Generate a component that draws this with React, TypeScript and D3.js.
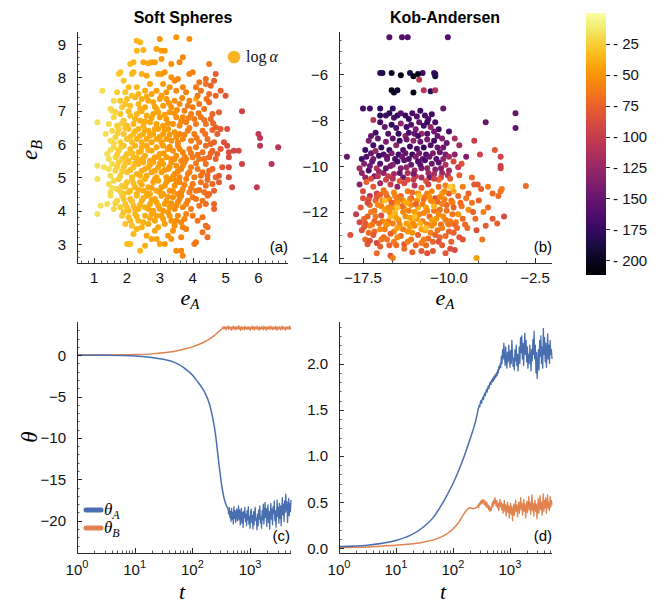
import React from "react";
import * as d3 from "d3";

// ---------- data: Soft Spheres [eA, eB, -log α] ----------
const softSpheres: [number, number, number][] = [
[2.3,9.1,35],[2.4,9.05,35],[3.0,9.15,48],[3.5,9.2,50],[3.9,9.15,52],
[2.3,8.8,35],[2.5,8.82,38],[2.9,8.85,44],[3.05,8.8,46],[3.15,8.8,48],[3.7,8.6,55],
[2.1,8.4,32],[2.2,8.45,35],[2.5,8.45,40],[2.65,8.42,43],[2.75,8.45,42],[2.85,8.45,44],[3.05,8.55,46],[3.6,8.45,56],[4.5,8.4,62],[3.35,8.4,50],
[1.75,8.1,25],[1.8,8.15,29],[2.15,8.1,32],[2.2,8.15,35],[2.45,8.1,38],[2.6,8.05,40],[2.95,8.1,44],[3.05,8.1,46],[3.15,8.15,48],[3.35,8.0,50],[3.45,7.9,54],[3.55,7.95,56],[3.9,8.1,58],[4.0,8.15,58],[4.2,7.85,64],[4.4,7.8,66],[4.55,7.75,72],[4.65,7.9,74],[4.7,8.1,78],[4.4,7.95,68],
[1.25,7.6,18],[1.7,7.55,25],[1.9,7.9,29],[1.95,7.55,29],[2.05,7.7,32],[2.3,7.7,35],[2.35,7.5,35],[2.55,7.6,40],[2.7,7.8,43],[2.75,7.5,43],[2.9,7.6,44],[3.1,7.8,46],[3.2,7.55,48],[3.3,7.7,50],[3.5,7.6,54],[3.7,7.7,56],[3.8,7.55,58],[4.1,7.7,62],[4.1,7.35,38],[4.25,7.6,66],[4.5,7.5,68],[4.85,7.6,76],[4.7,7.45,74],[5.0,7.45,82],[1.6,7.3,20],[1.5,7.05,20],
[1.55,7.0,20],[1.8,7.3,29],[1.85,7.1,25],[2.0,7.35,32],[2.1,7.15,32],[2.25,7.4,35],[2.35,7.2,35],[2.45,7.35,38],[2.55,7.1,40],[2.65,7.3,40],[2.8,7.25,43],[2.9,7.05,42],[3.0,7.35,44],[3.1,7.15,46],[3.2,7.35,48],[3.35,7.1,50],[3.45,7.3,52],[3.6,7.2,54],[3.75,7.0,58],[3.9,7.3,60],[4.0,7.1,60],[4.2,7.2,64],[4.35,7.05,66],[4.5,7.25,70],[4.6,6.9,72],[4.8,6.95,76],[5.5,6.98,96],[4.05,6.75,62],
[1.1,6.65,16],[1.45,6.6,19],[1.6,6.8,21],[1.7,6.55,25],[1.8,6.9,29],[1.9,6.7,29],[2.0,6.55,32],[2.1,6.85,32],[2.2,6.6,35],[2.3,6.9,35],[2.4,6.7,38],[2.5,6.55,38],[2.6,6.85,40],[2.7,6.65,40],[2.8,6.9,43],[2.9,6.6,42],[3.0,6.8,44],[3.1,6.55,45],[3.2,6.75,47],[3.3,6.95,49],[3.4,6.6,51],[3.5,6.8,53],[3.6,6.55,55],[3.7,6.8,56],[3.8,6.65,58],[3.95,6.9,60],[4.1,6.6,62],[4.25,6.8,64],[4.4,6.6,66],[4.55,6.75,70],[4.7,6.5,74],[4.85,6.45,78],[5.05,6.45,86],
[1.35,6.3,18],[1.5,6.1,19],[1.55,6.4,20],[1.65,6.2,22],[1.75,6.45,25],[1.8,6.05,25],[1.9,6.3,29],[2.0,6.15,29],[2.05,6.45,32],[2.15,6.05,32],[2.2,6.3,32],[2.3,6.15,35],[2.35,6.45,35],[2.45,6.05,38],[2.5,6.3,38],[2.6,6.15,40],[2.65,6.4,40],[2.75,6.05,43],[2.8,6.3,43],[2.9,6.15,42],[2.95,6.45,43],[3.05,6.05,45],[3.1,6.3,46],[3.2,6.15,47],[3.25,6.45,48],[3.35,6.1,50],[3.45,6.35,52],[3.55,6.05,54],[3.6,6.3,55],[3.7,6.15,57],[3.85,6.4,58],[3.95,6.1,60],[4.05,6.3,62],[4.2,6.05,64],[4.3,6.4,66],[4.45,6.15,68],[4.55,6.0,72],[4.65,6.05,74],[4.75,6.3,76],[4.95,6.05,84],[5.05,5.95,88],[5.4,5.8,92],[6.0,6.3,104],[6.05,6.18,104],[6.05,5.95,106],[6.6,5.9,108],
[1.4,5.7,18],[1.45,5.55,18],[1.6,5.9,20],[1.65,5.6,22],[1.75,5.8,25],[1.85,5.55,25],[1.9,5.95,29],[2.0,5.7,29],[2.05,5.5,32],[2.1,5.85,32],[2.2,5.6,32],[2.25,5.95,35],[2.35,5.75,35],[2.4,5.5,38],[2.45,5.9,38],[2.55,5.65,38],[2.6,5.95,40],[2.7,5.5,40],[2.75,5.8,43],[2.85,5.6,43],[2.9,5.9,42],[3.0,5.7,44],[3.05,5.5,45],[3.1,5.95,46],[3.2,5.6,47],[3.25,5.85,48],[3.35,5.55,50],[3.4,5.8,51],[3.5,5.65,53],[3.55,5.95,54],[3.65,5.5,56],[3.7,5.75,57],[3.8,5.55,58],[3.9,5.85,60],[4.0,5.6,62],[4.1,5.9,63],[4.2,5.55,65],[4.3,5.75,66],[4.4,5.95,68],[4.5,5.6,70],[4.6,5.8,72],[4.7,5.55,74],[4.85,5.85,78],[5.1,5.75,90],[5.1,5.6,90],[5.25,5.8,92],
[1.1,5.35,16],[1.3,5.3,17],[1.5,5.05,19],[1.55,5.4,19],[1.65,5.2,22],[1.75,5.45,25],[1.8,5.05,25],[1.9,5.3,29],[2.0,5.15,29],[2.05,5.45,32],[2.15,5.0,32],[2.2,5.3,32],[2.3,5.1,35],[2.35,5.4,35],[2.45,5.2,38],[2.5,5.45,38],[2.6,5.05,40],[2.65,5.3,40],[2.75,5.15,43],[2.8,5.45,43],[2.9,5.0,42],[2.95,5.3,43],[3.05,5.15,45],[3.1,5.4,46],[3.2,5.0,47],[3.25,5.25,48],[3.35,5.45,50],[3.45,5.1,52],[3.5,5.35,53],[3.6,5.0,55],[3.65,5.25,56],[3.75,5.45,57],[3.85,5.1,58],[3.95,5.3,60],[4.05,5.0,62],[4.15,5.25,63],[4.3,5.15,66],[4.4,5.4,68],[4.45,5.05,69],[4.6,5.25,72],[4.7,5.0,74],[4.9,5.3,80],[5.1,5.3,88],[5.1,5.0,88],[5.5,5.4,96],[6.4,5.4,108],
[1.1,4.95,16],[1.45,4.8,18],[1.5,4.55,19],[1.6,4.9,20],[1.7,4.65,22],[1.75,4.95,25],[1.85,4.75,25],[1.9,4.5,29],[2.0,4.85,29],[2.1,4.6,32],[2.15,4.95,32],[2.25,4.7,35],[2.3,4.5,35],[2.4,4.85,35],[2.5,4.6,38],[2.55,4.95,38],[2.65,4.7,40],[2.7,4.5,40],[2.8,4.85,43],[2.9,4.6,42],[2.95,4.9,43],[3.05,4.7,45],[3.1,4.5,46],[3.2,4.85,47],[3.3,4.6,49],[3.35,4.95,50],[3.45,4.75,52],[3.55,4.5,54],[3.6,4.85,55],[3.7,4.65,56],[3.8,4.95,58],[3.9,4.55,60],[4.0,4.8,62],[4.1,4.6,63],[4.25,4.85,65],[4.35,4.55,67],[4.4,4.75,68],[4.5,4.5,70],[4.6,4.8,72],[4.65,4.6,74],[5.2,4.7,92],[5.95,4.7,104],[4.8,4.85,78],
[1.2,4.15,17],[1.4,4.2,18],[1.5,4.45,19],[1.6,4.05,20],[1.7,4.3,22],[1.8,4.1,25],[1.85,4.45,25],[1.95,4.2,29],[2.05,4.0,32],[2.1,4.35,32],[2.2,4.15,32],[2.3,4.45,35],[2.35,4.05,35],[2.45,4.3,38],[2.55,4.1,38],[2.6,4.45,40],[2.7,4.2,40],[2.8,4.0,43],[2.85,4.35,43],[2.95,4.15,43],[3.05,4.45,45],[3.1,4.0,46],[3.2,4.3,47],[3.3,4.1,49],[3.4,4.4,51],[3.45,4.05,52],[3.55,4.25,54],[3.65,4.45,56],[3.7,4.1,56],[3.85,4.3,58],[3.95,4.05,60],[4.1,4.35,63],[4.2,4.15,64],[4.4,4.2,68],[4.45,4.45,69],[4.65,4.2,74],[4.65,4.05,74],[1.1,3.9,16],
[1.85,3.85,25],[1.95,3.6,29],[2.05,3.8,32],[2.15,3.55,32],[2.25,3.9,35],[2.35,3.7,35],[2.45,3.5,38],[2.55,3.85,38],[2.65,3.6,40],[2.75,3.9,43],[2.85,3.7,43],[2.95,3.5,43],[3.05,3.85,45],[3.15,3.6,46],[3.25,3.95,48],[3.35,3.7,50],[3.45,3.55,52],[3.55,3.85,54],[3.65,3.65,56],[3.7,3.5,56],[3.8,3.9,58],[4.0,3.85,62],[4.3,3.8,66],[4.4,3.55,68],[2.3,3.45,35],
[2.0,3.0,29],[2.05,3.0,32],[2.1,3.0,32],[2.2,3.3,35],[2.4,2.8,35],[2.55,2.95,38],[2.6,3.25,40],[2.75,3.15,43],[2.85,3.4,43],[2.9,3.15,42],[3.0,3.0,44],[3.15,3.0,46],[3.25,3.25,48],[3.35,3.15,50],[3.4,3.4,51],[3.5,2.8,53],[3.65,2.8,55],[3.7,2.65,56],[3.65,3.2,55],[4.05,3.0,62],[4.1,3.05,63],[4.3,3.35,66],[4.45,3.2,68],[4.45,3.5,68],[3.8,3.45,58],
[1.95,7.2,29],[2.15,7.45,32],[2.4,7.05,38],[2.6,7.42,40],[2.85,7.12,43],[3.05,7.45,45],[3.28,7.22,49],[3.52,7.02,53],[3.68,7.38,56],[3.85,7.15,59],[4.15,7.45,63],[4.42,7.35,67],
[1.65,6.95,22],[1.85,6.62,25],[2.05,6.98,32],[2.25,6.75,35],[2.45,6.98,38],[2.55,6.68,40],[2.75,6.78,43],[2.95,6.95,43],[3.15,6.88,46],[3.25,6.62,48],[3.45,6.92,52],[3.65,6.68,56],[3.88,6.78,59],[4.18,6.92,64],[4.35,6.72,66],[4.62,6.62,72],
[1.6,6.02,20],[1.72,6.32,25],[1.95,6.48,29],[2.1,6.22,32],[2.25,6.38,35],[2.4,6.25,38],[2.55,6.42,38],[2.7,6.25,40],[2.85,6.45,43],[3.0,6.22,44],[3.15,6.42,46],[3.3,6.28,49],[3.5,6.2,53],[3.75,6.28,57],[3.9,6.48,59],[4.12,6.18,63],[4.38,6.3,67],[4.6,6.42,72],
[1.5,5.82,19],[1.7,5.68,25],[1.82,5.9,25],[1.95,5.62,29],[2.15,5.72,32],[2.3,5.58,35],[2.42,5.78,38],[2.5,5.58,38],[2.65,5.82,40],[2.8,5.52,43],[2.95,5.62,43],[3.12,5.72,46],[3.3,5.92,49],[3.45,5.55,52],[3.6,5.85,55],[3.75,5.62,57],[3.95,5.72,61],[4.15,5.68,64],[4.35,5.55,67],[4.55,5.72,71],[4.75,5.7,76],
[1.45,5.25,18],[1.7,5.32,25],[1.85,5.18,25],[1.95,5.42,29],[2.1,5.22,32],[2.25,5.42,35],[2.4,5.05,35],[2.55,5.25,38],[2.7,5.38,40],[2.85,5.2,43],[3.0,5.42,44],[3.15,5.22,46],[3.3,5.32,49],[3.4,5.02,51],[3.55,5.18,54],[3.7,5.35,56],[3.9,5.15,59],[4.1,5.42,63],[4.25,5.05,65],[4.5,5.2,70],[4.8,5.05,78],
[1.55,4.68,19],[1.8,4.58,25],[1.95,4.72,29],[2.05,4.55,32],[2.2,4.82,32],[2.35,4.62,35],[2.45,4.78,38],[2.6,4.52,40],[2.75,4.68,43],[2.85,4.95,43],[3.0,4.55,44],[3.15,4.75,46],[3.25,4.92,48],[3.4,4.58,51],[3.5,4.9,53],[3.65,4.55,56],[3.75,4.78,57],[3.95,4.68,61],[4.2,4.62,65],[4.45,4.92,69],
[1.65,4.22,22],[1.9,4.35,29],[2.0,4.1,29],[2.15,4.28,32],[2.25,4.05,35],[2.4,4.18,35],[2.5,4.38,38],[2.65,4.05,40],[2.75,4.32,43],[2.9,4.25,42],[3.0,4.05,44],[3.15,4.2,46],[3.25,4.42,48],[3.35,4.22,50],[3.5,4.15,53],[3.6,4.35,55],[3.8,4.2,58],[4.0,4.4,62],[4.3,4.3,66],
[1.9,3.95,29],[2.1,3.7,32],[2.3,3.82,35],[2.5,3.65,38],[2.7,3.78,40],[2.9,3.85,42],[3.1,3.75,46],[3.3,3.85,49],[3.5,3.7,53],[3.75,3.75,57],[4.15,3.7,64]
];

// ---------- data: Kob-Andersen [eA, eB, -log α] ----------
const kobAndersen: [number, number, number][] = [
[-15.2,-4.4,160],[-14.1,-4.4,160],[-13.6,-4.4,160],[-10.1,-4.4,160],
[-16.0,-5.95,180],[-15.8,-5.95,185],[-15.0,-5.95,195],[-14.2,-6.05,205],[-13.4,-5.95,185],[-13.1,-6.1,205],[-12.6,-6.25,105],[-12.3,-5.95,170],[-11.3,-5.95,170],[-11.2,-6.1,190],[-11.2,-6.0,180],[-12.7,-6.0,200],
[-15.0,-6.7,200],[-14.8,-6.8,200],[-14.5,-6.7,195],[-13.1,-6.8,205],[-12.2,-6.7,110],[-11.6,-6.75,180],[-11.2,-6.7,110],
[-17.5,-7.5,170],[-16.9,-7.5,170],[-16.0,-7.5,175],[-14.9,-7.5,175],[-10.5,-7.5,150],[-4.2,-7.7,150],[-4.2,-8.35,150],[-6.8,-8.1,150],
[-16.0,-7.8,180],[-15.5,-7.8,170],[-15.2,-7.7,180],[-14.8,-7.9,165],[-14.5,-7.8,175],[-14.2,-7.7,160],[-13.8,-7.8,170],[-13.5,-7.95,175],[-13.2,-7.7,165],[-12.8,-7.85,160],[-12.5,-7.6,170],[-12.1,-7.8,165],[-11.8,-7.95,160],[-11.5,-7.75,170],[-16.6,-8.0,110],[-16.0,-8.1,170],[-15.6,-8.3,150],[-15.0,-8.2,175],[-14.6,-8.35,165],[-14.2,-8.15,130],[-13.7,-8.3,170],[-13.3,-8.2,160],[-12.9,-8.4,140],[-12.6,-8.1,150],[-12.2,-8.25,170],[-11.9,-8.1,175],[-11.6,-8.3,130],[-11.2,-8.1,165],[-10.9,-8.4,170],[-13.0,-8.6,150],[-13.8,-8.7,130],[-12.4,-8.6,120],[-11.3,-8.5,145],
[-16.8,-8.7,150],[-16.4,-8.55,170],[-15.3,-8.6,160],[-14.4,-8.6,175],[-13.5,-8.55,165],[-12.7,-8.7,170],[-11.9,-8.6,160],[-11.0,-8.7,150],[-10.5,-9.2,145],
[-17.0,-8.9,140],[-16.6,-9.1,165],[-16.2,-8.8,150],[-15.9,-9.2,175],[-15.5,-8.95,140],[-15.2,-9.3,170],[-14.9,-8.8,155],[-14.6,-9.1,130],[-14.3,-8.9,175],[-14.0,-9.3,160],[-13.7,-8.85,145],[-13.4,-9.15,170],[-13.1,-8.9,130],[-12.8,-9.25,165],[-12.5,-8.95,150],[-12.2,-9.2,175],[-11.9,-8.85,140],[-11.6,-9.1,160],[-11.3,-8.9,170],[-11.0,-9.2,150],[-10.6,-8.8,135],[-10.2,-9.0,150],[-10.0,-8.5,165],[-9.5,-8.8,115],[-9.5,-9.5,130],[-17.3,-9.3,170],[-16.8,-9.45,150],[-16.4,-9.35,125],[-15.7,-9.5,160],[-15.0,-9.45,140],[-14.4,-9.5,170],[-13.8,-9.45,150],[-13.2,-9.5,175],[-12.6,-9.45,140],[-12.0,-9.5,160],[-11.4,-9.45,135],[-10.8,-9.4,150],[-10.3,-9.5,140],[-7.8,-8.9,100],[-7.3,-9.5,95],[-6.0,-9.3,80],[-5.5,-9.6,95],[-8.5,-9.6,140],[-9.1,-9.1,120],[-18.9,-9.6,150],[-17.6,-9.7,170],
[-17.2,-9.6,160],[-16.6,-9.7,140],[-16.1,-9.55,170],[-15.4,-9.6,150],[-14.7,-9.7,165],[-14.1,-9.6,145],[-13.5,-9.7,160],[-12.9,-9.6,135],[-12.3,-9.7,150],[-11.7,-9.6,145],[-11.1,-9.7,160],[-10.5,-9.7,130],[-10.0,-9.6,120],
[-17.8,-10.1,120],[-17.4,-9.9,135],[-17.0,-10.2,165],[-16.7,-9.8,150],[-16.3,-10.1,110],[-16.0,-9.9,160],[-15.7,-10.3,130],[-15.4,-9.7,150],[-15.1,-10.0,145],[-14.8,-10.35,120],[-14.5,-9.8,170],[-14.2,-10.1,135],[-13.9,-9.75,155],[-13.6,-10.3,110],[-13.3,-9.95,150],[-13.0,-10.2,125],[-12.7,-9.8,160],[-12.4,-10.1,140],[-12.1,-9.75,165],[-11.8,-10.3,120],[-11.5,-9.9,150],[-11.2,-10.15,135],[-10.9,-9.85,155],[-10.6,-10.3,125],[-10.3,-9.95,110],[-10.0,-10.2,120],[-9.6,-9.8,90],[-9.2,-10.05,100],[-8.9,-9.9,85],[-9.1,-10.4,75],[-8.0,-10.5,70],[-7.5,-10.8,80],[-3.3,-10.87,70],[-5.5,-10.0,100],[-5.5,-10.1,95],[-16.5,-10.45,140],[-15.3,-10.45,100],[-14.0,-10.5,150],[-12.9,-10.45,100],[-11.7,-10.5,145],[-10.7,-10.5,95],[-17.3,-10.5,125],
[-17.6,-10.3,130],[-16.9,-10.0,145],[-16.1,-10.25,125],[-15.5,-10.1,150],[-14.9,-9.95,135],[-14.3,-10.3,150],[-13.7,-10.05,130],[-13.1,-10.35,140],[-12.5,-9.95,155],[-11.9,-10.1,130],[-11.3,-10.35,115],[-10.7,-10.1,135],[-10.1,-10.4,110],
[-16.8,-10.55,90],[-15.5,-10.6,95],[-14.3,-10.65,80],[-13.1,-10.6,100],[-12.0,-10.65,85],[-10.9,-10.6,75],[-9.9,-10.55,80],[-16.2,-10.45,105],[-14.9,-10.55,110],[-13.6,-10.6,90],[-12.4,-10.5,115],[-11.3,-10.55,95],
[-17.8,-10.8,130],[-17.5,-11.1,90],[-17.2,-10.7,75],[-16.9,-11.3,110],[-16.6,-10.9,80],[-16.3,-11.2,95],[-16.0,-10.75,120],[-15.7,-11.05,65],[-15.4,-11.35,85],[-15.1,-10.8,100],[-14.8,-11.15,55],[-14.5,-10.9,130],[-14.2,-11.3,70],[-13.9,-10.75,90],[-13.6,-11.1,60],[-13.3,-11.4,80],[-13.0,-10.85,110],[-12.7,-11.2,50],[-12.4,-10.95,75],[-12.1,-11.35,65],[-11.8,-10.8,95],[-11.5,-11.1,55],[-11.2,-11.4,85],[-10.9,-10.9,70],[-10.6,-11.2,45],[-10.3,-10.85,60],[-10.0,-11.2,75],[-9.7,-10.9,35],[-9.6,-11.1,40],[-9.2,-11.3,70],[-8.8,-10.9,60],[-8.3,-11.2,75],[-7.8,-10.8,80],[-7.2,-11.0,75],[-6.6,-10.9,60],[-6.2,-11.2,70],[-5.7,-11.3,70],[-5.4,-11.0,60],[-5.5,-11.1,65],[-8.5,-11.4,65],
[-16.0,-11.25,75],[-14.7,-11.3,60],[-13.2,-11.15,70],[-11.9,-11.2,60],[-10.4,-11.1,55],[-8.9,-11.75,65],
[-17.0,-11.45,85],[-16.4,-11.5,70],[-15.8,-11.5,60],[-15.2,-11.45,55],[-14.6,-11.55,70],[-14.0,-11.5,45],[-13.4,-11.45,60],[-12.8,-11.5,50],[-12.2,-11.45,65],[-11.6,-11.5,55],[-11.0,-11.55,70],[-10.4,-11.45,60],[-9.8,-11.5,65],
[-17.5,-11.4,85],[-16.9,-11.7,70],[-16.3,-11.35,80],[-15.9,-11.75,60],[-15.5,-11.2,65],[-14.9,-11.8,50],[-14.3,-11.45,60],[-13.9,-11.85,45],[-13.3,-11.7,55],[-12.7,-11.8,40],[-12.3,-11.65,60],[-11.7,-11.35,50],[-11.3,-11.95,65],[-10.8,-11.35,55],[-10.2,-11.95,65],[-9.7,-11.6,60],[-9.0,-11.6,70],[-8.0,-11.6,65],[-7.4,-11.5,75],[-6.6,-11.8,70],
[-18.1,-12.1,100],[-17.7,-11.8,80],[-17.4,-12.3,70],[-17.1,-11.6,90],[-16.8,-12.0,60],[-16.5,-12.4,75],[-16.2,-11.7,55],[-15.9,-12.15,85],[-15.6,-11.9,45],[-15.3,-12.4,65],[-15.0,-11.6,75],[-14.7,-12.05,35],[-14.4,-12.35,55],[-14.1,-11.75,70],[-13.8,-12.2,50],[-13.5,-11.95,60],[-13.2,-12.45,40],[-12.9,-11.65,75],[-12.6,-12.1,55],[-12.3,-12.4,60],[-12.0,-11.8,45],[-11.7,-12.2,70],[-11.4,-11.55,55],[-11.1,-12.3,50],[-10.8,-11.9,65],[-10.5,-12.2,55],[-10.2,-11.7,70],[-9.9,-12.4,60],[-9.6,-11.8,75],[-9.2,-12.1,50],[-8.8,-12.3,70],[-8.3,-11.9,55],[-7.7,-12.3,70],[-7.0,-12.0,60],[-6.2,-12.3,80],[-5.8,-12.5,75],[-5.2,-12.2,90],[-13.7,-11.6,40],[-15.1,-12.2,35],
[-16.5,-11.95,65],[-15.3,-11.8,55],[-14.5,-11.6,50],[-13.0,-12.0,45],[-11.9,-11.95,55],[-10.6,-11.65,60],[-9.4,-12.45,60],
[-17.8,-12.45,90],[-17.1,-12.2,75],[-16.4,-12.2,65],[-15.8,-12.4,55],[-15.2,-12.0,50],[-14.6,-12.25,45],[-14.0,-12.0,55],[-13.4,-12.25,45],[-12.8,-12.3,50],[-12.2,-12.05,55],[-11.5,-12.35,45],[-10.9,-12.1,55],[-10.3,-12.35,60],[-9.7,-12.1,65],[-8.6,-12.55,70],[-7.9,-12.0,75],[-6.8,-12.6,80],
[-17.3,-12.5,80],[-16.7,-12.55,65],[-16.1,-12.5,70],[-15.5,-12.55,40],[-14.9,-12.5,60],[-14.3,-12.55,55],[-13.7,-12.5,45],[-13.1,-12.55,60],[-12.5,-12.5,35],[-11.9,-12.55,60],[-11.3,-12.5,50],[-10.7,-12.55,65],[-10.1,-12.5,55],[-9.5,-12.55,70],
[-17.4,-12.65,80],[-16.5,-12.85,70],[-15.6,-12.75,60],[-14.8,-12.85,55],[-14.0,-12.75,60],[-13.2,-12.9,50],[-12.4,-12.75,45],[-11.6,-12.9,60],[-10.8,-13.1,70],[-10.0,-12.85,75],[-9.3,-12.7,70],[-8.8,-13.2,85],
[-17.6,-12.8,85],[-17.3,-13.2,70],[-16.9,-12.6,60],[-16.6,-13.0,80],[-16.3,-13.35,90],[-16.0,-12.75,55],[-15.7,-13.1,70],[-15.4,-12.55,50],[-15.1,-12.95,75],[-14.8,-13.3,60],[-14.5,-12.7,45],[-14.2,-13.05,70],[-13.9,-13.4,80],[-13.6,-12.85,50],[-13.3,-13.2,65],[-13.0,-12.6,55],[-12.7,-13.0,75],[-12.4,-13.35,60],[-12.1,-12.8,45],[-11.8,-13.15,70],[-11.5,-12.6,55],[-11.2,-13.0,75],[-10.9,-13.3,85],[-10.6,-12.7,60],[-10.3,-13.05,70],[-10.0,-12.55,65],[-9.6,-12.9,75],[-9.1,-13.1,80],[-8.4,-12.7,70],[-7.6,-12.8,85],[-7.1,-13.2,65],[-18.6,-13.0,85],[-17.1,-13.4,80],[-15.2,-13.45,75],
[-17.0,-12.9,70],[-15.9,-13.2,65],[-14.5,-13.1,55],[-13.4,-12.65,45],[-12.2,-13.2,60],[-11.0,-12.8,65],[-9.8,-13.3,75],
[-16.9,-13.25,85],[-16.0,-13.5,75],[-15.4,-13.2,65],[-14.6,-13.45,70],[-13.6,-13.3,60],[-12.9,-13.45,75],[-12.0,-13.45,70],[-11.4,-13.3,75],[-10.6,-13.45,80],[-9.9,-13.6,85],
[-16.3,-13.8,70],[-15.1,-13.9,85],[-14.9,-14.0,60],[-12.4,-13.7,80],[-11.9,-13.8,85],[-11.4,-13.7,80],[-13.2,-13.75,75],[-10.3,-13.8,80],[-9.5,-13.65,90],[-7.6,-14.0,45],[-13.9,-13.6,70],
[-15.6,-11.5,30],[-14.5,-11.8,28],[-12.6,-11.3,32],[-12.0,-12.7,30],[-9.9,-10.9,25],[-11.3,-11.75,35],[-13.0,-12.2,30]
];

const colorTicks = [25, 50, 75, 100, 125, 150, 175, 200];

// ---------- data: θ(t) curves, [log10 t, θ] ----------
const cBlueSmooth: [number, number][] = [[0,0],[0.5,-0.02],[1.0,-0.1],[1.3,-0.3],[1.5,-0.5],[1.7,-0.9],[1.85,-1.5],[2.0,-2.4],[2.1,-3.3],[2.2,-4.3],[2.3,-6.0],[2.35,-7.5],[2.4,-9.5],[2.45,-12.5],[2.5,-15.3],[2.55,-17.3],[2.62,-18.6]];
const cBlueNoise = [
-18.6,-19.2,-18.4,-19.6,-18.9,-20.1,-18.5,-19.8,-19.0,-20.4,
-18.3,-19.7,-18.8,-20.2,-19.1,-18.6,-20.0,-19.3,-18.2,-19.9,
-18.7,-20.5,-19.4,-18.5,-20.3,-19.0,-20.8,-18.9,-19.6,-18.4,
-20.1,-19.2,-20.6,-18.8,-19.9,-18.3,-20.4,-19.5,-20.9,-19.0,
-18.6,-20.2,-19.4,-21.0,-18.9,-20.5,-19.1,-18.4,-20.0,-19.7,
-21.1,-19.2,-20.6,-18.7,-19.8,-18.2,-20.3,-19.5,-20.9,-18.8,
-19.9,-18.0,-20.4,-19.3,-17.8,-19.6,-18.5,-20.7,-19.0,-18.1,
-20.2,-18.9,-21.0,-19.4,-17.9,-19.8,-18.6,-20.5,-18.3,-19.1,
-17.6,-20.0,-18.8,-20.8,-19.2,-17.5,-19.5,-18.4,-20.3,-17.9,
-19.7,-18.2,-20.6,-18.7,-17.2,-19.3,-18.0,-20.1,-17.6,-19.0,
-16.8,-18.8,-17.7,-20.2,-18.5,-17.3,-19.4,-17.9,-18.9,-17.5];
const cOrangeSmooth: [number, number][] = [[0,0],[0.5,0.01],[1.0,0.06],[1.3,0.15],[1.5,0.28],[1.7,0.48],[1.85,0.7],[2.0,1.0],[2.1,1.25],[2.2,1.55],[2.3,1.95],[2.38,2.35],[2.45,2.8],[2.5,3.1],[2.52,3.25]];
const cOrangeNoise = [
3.25,3.4,3.15,3.45,3.2,3.35,3.05,3.4,3.25,3.5,
3.1,3.3,3.45,3.15,3.35,3.0,3.4,3.2,3.5,3.25,
3.05,3.45,3.3,3.1,3.4,3.2,3.55,3.15,3.35,3.0,
3.45,3.25,3.1,3.4,3.3,3.05,3.5,3.2,3.35,3.1,
3.4,3.15,3.45,3.25,3.0,3.35,3.2,3.5,3.1,3.3,
3.45,3.05,3.4,3.25,3.15,3.5,3.2,3.35,3.0,3.4,
3.3,3.1,3.45,3.2,3.35,3.05,3.5,3.25,3.15,3.4,
3.0,3.35,3.2,3.45,3.1,3.3,3.5,3.15,3.4,3.25,
3.05,3.45,3.2,3.35,3.1,3.5,3.25,3.0,3.4,3.3,
3.15,3.45,3.2,3.05,3.35,3.5,3.1,3.3,3.4,3.2,
3.0,3.45,3.25,3.15,3.4,3.35,3.1,3.5,3.2,3.3];
const dBlueSmooth: [number, number][] = [[0,0.02],[0.5,0.035],[1.0,0.085],[1.25,0.14],[1.5,0.24],[1.65,0.33],[1.8,0.47],[1.9,0.58],[2.0,0.7],[2.1,0.84],[2.2,1.0],[2.3,1.18],[2.4,1.38],[2.45,1.52]];
const dBlueNoise = [
1.52,1.55,1.53,1.58,1.6,1.57,1.62,1.64,1.61,1.66,
1.68,1.65,1.7,1.72,1.69,1.74,1.76,1.73,1.78,1.8,
1.77,1.82,1.8,1.84,1.81,1.86,1.83,1.88,1.85,1.9,
1.87,1.93,1.9,1.97,1.94,2.0,1.96,2.08,2.0,2.15,
2.05,2.22,2.1,1.98,2.18,2.05,1.95,2.12,2.02,2.2,
2.08,1.96,2.14,2.0,2.25,2.1,1.97,2.06,1.93,2.15,
2.03,2.2,1.98,2.1,1.92,2.05,2.18,2.0,2.28,2.12,
2.3,2.05,2.22,1.98,2.15,2.33,2.1,2.25,2.02,2.18,
1.95,2.1,2.0,2.2,2.08,1.92,2.15,2.03,2.26,2.1,
2.35,2.05,2.2,1.9,2.12,1.84,2.0,2.15,1.93,2.25,
2.08,2.3,2.0,2.18,1.95,2.38,2.1,2.28,2.02,2.22,
1.96,2.12,2.32,2.05,2.2,2.0,2.25,2.1,2.15,2.05];
const dOrangeSmooth: [number, number][] = [[0,0.01],[0.5,0.015],[1.0,0.035],[1.3,0.05],[1.5,0.07],[1.7,0.1],[1.85,0.14],[2.0,0.21],[2.1,0.28],[2.18,0.36],[2.25,0.42],[2.3,0.44],[2.36,0.43],[2.43,0.45]];
const dOrangeNoise = [
0.45,0.47,0.44,0.49,0.47,0.51,0.48,0.52,0.49,0.53,
0.5,0.47,0.52,0.48,0.45,0.5,0.44,0.47,0.42,0.46,
0.4,0.44,0.41,0.46,0.5,0.45,0.52,0.48,0.55,0.5,
0.46,0.52,0.44,0.49,0.41,0.47,0.53,0.45,0.5,0.42,
0.48,0.38,0.45,0.52,0.4,0.47,0.35,0.44,0.5,0.39,
0.46,0.33,0.42,0.49,0.37,0.45,0.3,0.41,0.48,0.36,
0.44,0.52,0.4,0.47,0.34,0.43,0.5,0.38,0.46,0.55,
0.42,0.49,0.36,0.45,0.53,0.4,0.48,0.33,0.44,0.51,
0.39,0.47,0.56,0.42,0.5,0.37,0.46,0.58,0.41,0.49,
0.35,0.45,0.52,0.4,0.48,0.32,0.44,0.54,0.38,0.47,
0.57,0.42,0.5,0.36,0.46,0.59,0.4,0.52,0.44,0.55,
0.38,0.48,0.58,0.43,0.5,0.41,0.56,0.45,0.52,0.47];

// ---------- styling ----------
const SANS = "'Liberation Sans', Arial, Helvetica, sans-serif";
const SERIF = "'Liberation Serif', 'Times New Roman', serif";
const AXC = "#2b2b2b";
const BLUE = "#4a6fb0";
const ORANGE = "#e0834f";
const CMAX = 212;
const cmap = (v: number) => d3.interpolateInferno(1 - v / CMAX);
const fmt = (v: number, digits = 0) => {
  const s = Math.abs(v).toFixed(digits);
  return v < 0 ? "\u2212" + s : s;
};

type Box = { x0: number; x1: number; y0: number; y1: number };

function Frame({ box, xs, ys, xMajor, xMinor, yMajor, yMinor, xLab, yLab, logX }: any) {
  const els: any[] = [];
  els.push(<line key="ly" x1={box.x0 + 0.5} x2={box.x0 + 0.5} y1={box.y0} y2={box.y1} stroke={AXC} />);
  els.push(<line key="lx" x1={box.x0} x2={box.x1} y1={box.y1 + 0.5} y2={box.y1 + 0.5} stroke={AXC} />);
  xMinor.forEach((v: number, i: number) => {
    const x = Math.round(xs(v)) + 0.5;
    els.push(<line key={"xm" + i} x1={x} x2={x} y1={box.y1} y2={box.y1 - 2.5} stroke={AXC} strokeWidth={0.8} />);
  });
  xMajor.forEach((v: number, i: number) => {
    const x = Math.round(xs(v)) + 0.5;
    els.push(<line key={"xM" + i} x1={x} x2={x} y1={box.y1} y2={box.y1 - 5} stroke={AXC} />);
    if (logX) {
      els.push(
        <text key={"xl" + i} x={xs(v)} y={box.y1 + 22} textAnchor="middle" fontFamily={SANS} fontSize={15} fill="#111">
          10<tspan dy={-7} fontSize={11}>{Math.round(Math.log10(v))}</tspan>
        </text>
      );
    } else {
      els.push(
        <text key={"xl" + i} x={xs(v)} y={box.y1 + 20} textAnchor="middle" fontFamily={SANS} fontSize={15} fill="#111">
          {xLab(v)}
        </text>
      );
    }
  });
  yMinor.forEach((v: number, i: number) => {
    const y = Math.round(ys(v)) + 0.5;
    els.push(<line key={"ym" + i} x1={box.x0} x2={box.x0 + 2.5} y1={y} y2={y} stroke={AXC} strokeWidth={0.8} />);
  });
  yMajor.forEach((v: number, i: number) => {
    const y = Math.round(ys(v)) + 0.5;
    els.push(<line key={"yM" + i} x1={box.x0} x2={box.x0 + 5} y1={y} y2={y} stroke={AXC} />);
    els.push(
      <text key={"yl" + i} x={box.x0 - 11} y={ys(v) + 5.5} textAnchor="end" fontFamily={SANS} fontSize={15} fill="#111">
        {yLab(v)}
      </text>
    );
  });
  return <g>{els}</g>;
}

function logMinors(maxExp: number) {
  const out: number[] = [];
  for (let e = 0; e < maxExp; e++) for (let k = 2; k <= 9; k++) out.push(k * Math.pow(10, e));
  return out;
}

function Curve({ xs, ys, smooth, noise, n0, n1, color }: any) {
  const lineS = d3.line<[number, number]>().x(d => xs(Math.pow(10, d[0]))).y(d => ys(d[1])).curve(d3.curveMonotoneX);
  const pts: [number, number][] = noise.map((v: number, i: number) => [n0 + (i * (n1 - n0)) / (noise.length - 1), v]);
  const lineN = d3.line<[number, number]>().x(d => xs(Math.pow(10, d[0]))).y(d => ys(d[1]));
  return (
    <g fill="none" stroke={color} strokeWidth={1.5} strokeLinejoin="round">
      <path d={lineS(smooth) || ""} />
      <path d={lineN(pts) || ""} strokeWidth={1.3} />
    </g>
  );
}

export default function App() {
  const A: Box = { x0: 77, x1: 288, y0: 32, y1: 263 };
  const B: Box = { x0: 339, x1: 552, y0: 32, y1: 263 };
  const C: Box = { x0: 77, x1: 291, y0: 322, y1: 553 };
  const D: Box = { x0: 339, x1: 552, y0: 322, y1: 553 };

  const xa = d3.scaleLinear().domain([0.48, 6.9]).range([A.x0, A.x1]);
  const ya = d3.scaleLinear().domain([2.43, 9.36]).range([A.y1, A.y0]);
  const xb = d3.scaleLinear().domain([-19.59, -1.02]).range([B.x0, B.x1]);
  const yb = d3.scaleLinear().domain([-14.22, -4.17]).range([B.y1, B.y0]);
  const xc = d3.scaleLog().domain([1, Math.pow(10, 3.71)]).range([C.x0, C.x1]);
  const yc = d3.scaleLinear().domain([-23.9, 4.0]).range([C.y1, C.y0]);
  const xd = d3.scaleLog().domain([1, Math.pow(10, 3.74)]).range([D.x0, D.x1]);
  const yd = d3.scaleLinear().domain([-0.05, 2.45]).range([D.y1, D.y0]);

  const cb = { x0: 586, x1: 606, y0: 13, y1: 275 };
  const yCb = d3.scaleLinear().domain([0, CMAX]).range([cb.y0, cb.y1]);
  const stops = d3.range(0, 21).map(i => i / 20);

  const R = 3;

  return (
    <svg width={667} height={605} style={{ position: "absolute", left: 0, top: 0, background: "#fff" }}>
      <defs>
        <linearGradient id="cbar" x1="0" y1="0" x2="0" y2="1">
          {stops.map((s, i) => (
            <stop key={i} offset={s} stopColor={cmap(s * CMAX)} />
          ))}
        </linearGradient>
      </defs>
      <rect x={0} y={0} width={667} height={605} fill="#fff" />

      {/* Titles */}
      <text x={183} y={23} textAnchor="middle" fontFamily={SANS} fontWeight="bold" fontSize={16}>Soft Spheres</text>
      <text x={445} y={23} textAnchor="middle" fontFamily={SANS} fontWeight="bold" fontSize={16}>Kob-Andersen</text>

      {/* Panel (a) */}
      <g>
        {softSpheres.map((p, i) => (
          <circle key={i} cx={xa(p[0])} cy={ya(p[1])} r={R} fill={cmap(p[2])} />
        ))}
      </g>
      <Frame box={A} xs={xa} ys={ya}
        xMajor={[1, 2, 3, 4, 5, 6]} xMinor={d3.range(0.6, 6.9, 0.2)}
        yMajor={[3, 4, 5, 6, 7, 8, 9]} yMinor={d3.range(2.6, 9.4, 0.2)}
        xLab={(v: number) => fmt(v)} yLab={(v: number) => fmt(v)} />
      <circle cx={234} cy={57} r={6.3} fill="#f8b424" />
      <text x={246} y={62} fontFamily={SERIF} fontSize={16} fill="#111">log<tspan dx={3} fontStyle="italic">α</tspan></text>
      <text x={288} y={252} textAnchor="end" fontFamily={SANS} fontSize={15}>(a)</text>

      {/* Panel (b) */}
      <g>
        {kobAndersen.map((p, i) => (
          <circle key={i} cx={xb(p[0])} cy={yb(p[1])} r={R} fill={cmap(p[2])} />
        ))}
      </g>
      <Frame box={B} xs={xb} ys={yb}
        xMajor={[-17.5, -10, -2.5]} xMinor={d3.range(-17.5, -1.1, 2.5)}
        yMajor={[-14, -12, -10, -8, -6]} yMinor={d3.range(-14, -4.2, 0.5)}
        xLab={(v: number) => fmt(v, 1)} yLab={(v: number) => fmt(v)} />
      <text x={552} y={252} textAnchor="end" fontFamily={SANS} fontSize={15}>(b)</text>

      {/* axis labels top */}
      <text transform="translate(37,150) rotate(-90)" textAnchor="middle" fontFamily={SERIF} fontStyle="italic" fontSize={23}>
        e<tspan fontSize={16} dy={5}>B</tspan>
      </text>
      <text x={190} y={305} textAnchor="middle" fontFamily={SERIF} fontStyle="italic" fontSize={22}>
        e<tspan fontSize={15} dy={4}>A</tspan>
      </text>
      <text x={445} y={305} textAnchor="middle" fontFamily={SERIF} fontStyle="italic" fontSize={22}>
        e<tspan fontSize={15} dy={4}>A</tspan>
      </text>

      {/* Colorbar */}
      <rect x={cb.x0} y={cb.y0} width={cb.x1 - cb.x0} height={cb.y1 - cb.y0} fill="url(#cbar)" />
      {colorTicks.map((v, i) => (
        <g key={i}>
          <line x1={cb.x1} x2={cb.x1 + 4} y1={Math.round(yCb(v)) + 0.5} y2={Math.round(yCb(v)) + 0.5} stroke={AXC} />
          <text x={cb.x1 + 7} y={yCb(v) + 5.5} fontFamily={SANS} fontSize={15} fill="#111">{"- " + v}</text>
        </g>
      ))}

      {/* Panel (c) */}
      <Curve xs={xc} ys={yc} smooth={cOrangeSmooth} noise={cOrangeNoise} n0={2.52} n1={3.71} color={ORANGE} />
      <Curve xs={xc} ys={yc} smooth={cBlueSmooth} noise={cBlueNoise} n0={2.62} n1={3.71} color={BLUE} />
      <Frame box={C} xs={xc} ys={yc} logX
        xMajor={[1, 10, 100, 1000]} xMinor={logMinors(4).filter(v => v < Math.pow(10, 3.71))}
        yMajor={[-20, -15, -10, -5, 0]} yMinor={d3.range(-23, 4, 1)}
        xLab={(v: number) => fmt(v)} yLab={(v: number) => fmt(v)} />
      <text x={290} y={541} textAnchor="end" fontFamily={SANS} fontSize={15}>(c)</text>
      <line x1={86} x2={101} y1={510} y2={510} stroke={BLUE} strokeWidth={5} strokeLinecap="round" />
      <line x1={86} x2={101} y1={528} y2={528} stroke={ORANGE} strokeWidth={5} strokeLinecap="round" />
      <text x={104} y={515} fontFamily={SERIF} fontStyle="italic" fontSize={17}>θ<tspan fontSize={12} dy={4}>A</tspan></text>
      <text x={104} y={533} fontFamily={SERIF} fontStyle="italic" fontSize={17}>θ<tspan fontSize={12} dy={4}>B</tspan></text>

      {/* Panel (d) */}
      <Curve xs={xd} ys={yd} smooth={dOrangeSmooth} noise={dOrangeNoise} n0={2.43} n1={3.74} color={ORANGE} />
      <Curve xs={xd} ys={yd} smooth={dBlueSmooth} noise={dBlueNoise} n0={2.45} n1={3.74} color={BLUE} />
      <Frame box={D} xs={xd} ys={yd} logX
        xMajor={[1, 10, 100, 1000]} xMinor={logMinors(4).filter(v => v < Math.pow(10, 3.74))}
        yMajor={[0, 0.5, 1, 1.5, 2]} yMinor={d3.range(0, 2.45, 0.1)}
        xLab={(v: number) => fmt(v)} yLab={(v: number) => fmt(v, 1)} />
      <text x={552} y={541} textAnchor="end" fontFamily={SANS} fontSize={15}>(d)</text>

      {/* axis labels bottom */}
      <text transform="translate(37,437) rotate(-90)" textAnchor="middle" fontFamily={SERIF} fontStyle="italic" fontSize={23}>θ</text>
      <text x={182} y={599} textAnchor="middle" fontFamily={SERIF} fontStyle="italic" fontSize={22}>t</text>
      <text x={443} y={599} textAnchor="middle" fontFamily={SERIF} fontStyle="italic" fontSize={22}>t</text>
    </svg>
  );
}
